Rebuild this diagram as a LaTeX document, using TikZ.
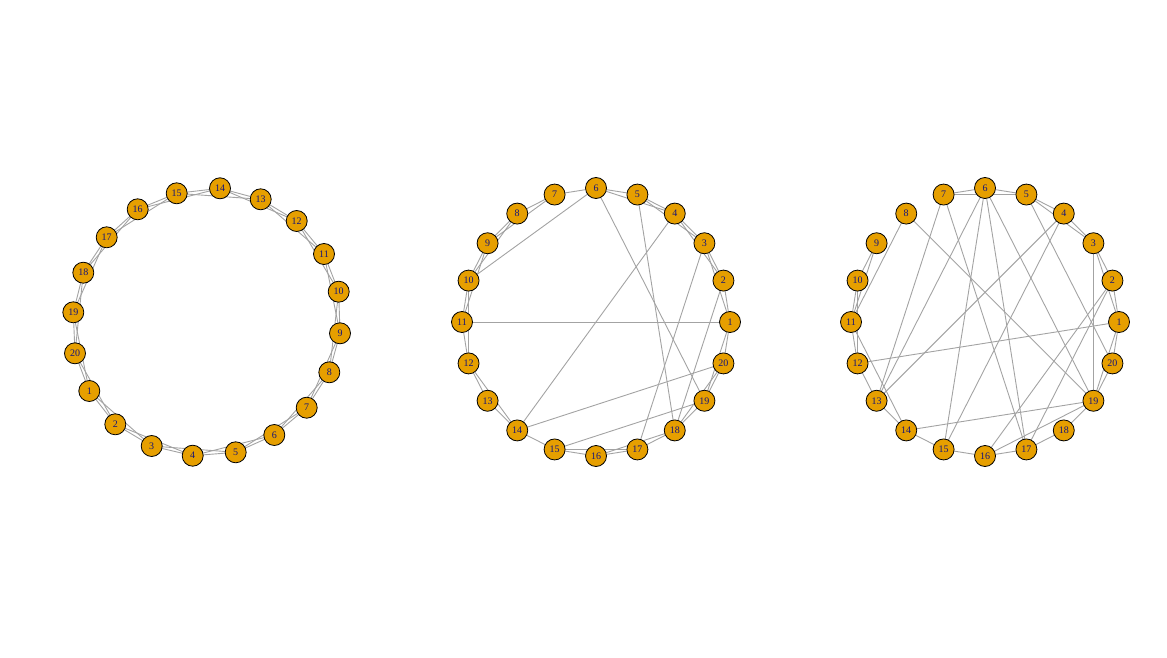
\documentclass[tikz,border=0pt]{standalone}
\usepackage{fontspec}
\setmainfont{Liberation Serif}
\usepackage{tikz}
\usepackage{tkz-graph}
\usetikzlibrary{backgrounds}
\definecolor{vfill}{HTML}{E69F00}
\definecolor{vlabel}{HTML}{14147A}
\definecolor{egray}{HTML}{A3A3A3}

\begin{document}
\begin{tikzpicture}[x=1pt,y=-1pt]
          \useasboundingbox (0,0) rectangle (1167,658);
          \tikzset{VertexStyle/.style = {shape=circle, draw=black, line width=0.8pt, fill=vfill,
              minimum size=21pt, inner sep=0pt, text=vlabel, font=\fontsize{10}{10}\selectfont}}
          \tikzset{EdgeStyle/.style = {draw=egray, line width=0.9pt}}

          % ring lattice
          \foreach \n/\x/\y in {1/89.3/391, 2/115.3/424.3, 3/151.7/446, 4/192.7/455.7,
              5/235.7/452.3, 6/274.3/435, 7/306.7/407.7, 8/329.3/372.3, 9/340/333.3,
              10/338.7/291.7, 11/324/254, 12/296.7/221, 13/260.7/199.3, 14/220/188.3,
              15/176.7/193.3, 16/137.7/209.3, 17/106.7/237.3, 18/83.3/272.7,
              19/73.3/312.3, 20/75/353.3}{
            \Vertex[x=\x,y=\y,L=\n]{a\n}
          }
          % rewired, circle
          \foreach \n in {1,...,20}{
            \pgfmathsetmacro\x{596+134*cos((\n-1)*18)}
            \pgfmathsetmacro\y{322-134*sin((\n-1)*18)}
            \Vertex[x=\x,y=\y,L=\n]{b\n}
            \pgfmathsetmacro\x{985+134*cos((\n-1)*18)}
            \Vertex[x=\x,y=\y,L=\n]{c\n}
          }

          \begin{pgfonlayer}{background}
            \foreach \n in {1,...,20}{
              \pgfmathtruncatemacro\p{mod(\n,20)+1}
              \pgfmathtruncatemacro\q{mod(\n+1,20)+1}
              \Edge(a\n)(a\p)
              \Edge(a\n)(a\q)
            }
            \foreach \i/\j in {1/2,1/3,2/3,2/4,3/4,3/5,4/5,4/6,5/6,6/7,7/8,7/9,8/9,8/10,
                9/10,9/11,10/11,10/12,11/12,12/13,12/14,13/14,14/15,15/16,15/17,16/17,
                16/18,17/18,18/19,18/20,19/20,19/1,20/1,
                6/10,11/1,14/4,14/20,15/19,17/3,18/5,18/2,6/19}{
              \Edge(b\i)(b\j)
            }
            \foreach \i/\j in {6/7,5/7,5/6,4/5,3/5,3/4,2/3,1/3,1/2,1/20,19/20,1/19,
                18/19,17/18,16/17,15/16,14/15,13/14,12/13,11/14,11/12,10/12,10/11,
                9/11,9/10,8/11,8/19,7/13,7/17,6/13,6/15,6/17,6/19,5/20,4/13,4/15,
                3/19,2/16,2/17,1/12,14/19,16/19}{
              \Edge(c\i)(c\j)
            }
          \end{pgfonlayer}
        \end{tikzpicture}
\end{document}
